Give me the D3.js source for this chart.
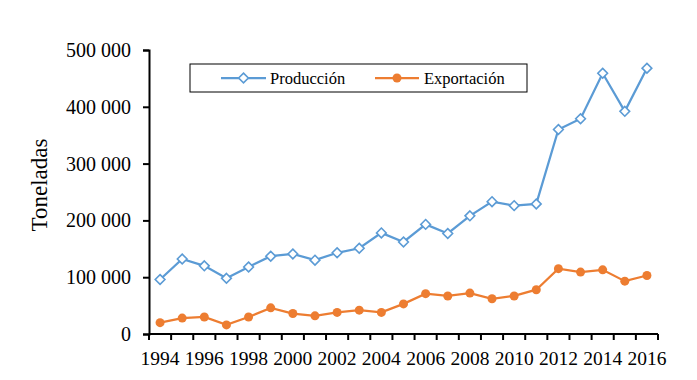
<!DOCTYPE html>
<html>
<head>
<meta charset="utf-8">
<script src="https://cdn.jsdelivr.net/npm/d3@7"></script>
<style>
  body { margin: 0; background: #fff; }
  text { font-family: "Liberation Serif", "Times New Roman", serif; fill: #000; }
</style>
</head>
<body>
<div id="chart"></div>
<script>
// years on the x axis
var years = [1994, 1995, 1996, 1997, 1998, 1999, 2000, 2001, 2002, 2003, 2004, 2005,
             2006, 2007, 2008, 2009, 2010, 2011, 2012, 2013, 2014, 2015, 2016];

// toneladas
var produccion = [96000, 132000, 120000, 98000, 118000, 137000, 141000, 130000, 143000, 151000,
                  178000, 162000, 193000, 177000, 208000, 233000, 226000, 229000, 360000,
                  379000, 459000, 392000, 468000];
var exportacion = [20000, 28000, 30000, 16000, 30000, 46000, 36000, 32000, 38000, 42000,
                   38000, 53000, 71000, 67000, 72000, 62000, 67000, 78000, 115000, 109000,
                   113000, 93000, 103000];

var yTicks = [0, 100000, 200000, 300000, 400000, 500000];
var xLabels = [1994, 1996, 1998, 2000, 2002, 2004, 2006, 2008, 2010, 2012, 2014, 2016];

var margin = { top: 50, left: 149, right: 39, bottom: 46 },
    width = 697 - margin.left - margin.right,
    height = 380 - margin.top - margin.bottom;

var svg = d3.select("#chart")
    .append("svg")
    .attr("width", 697)
    .attr("height", 380)
    .append("g")
    .attr("transform", "translate(" + margin.left + "," + margin.top + ")");

var x = d3.scaleBand()
    .domain(years)
    .range([0, width]);

var y = d3.scaleLinear()
    .domain([0, 500000])
    .range([height, 0]);

var fmt = d3.formatLocale({ decimal: ",", thousands: " ", grouping: [3], currency: ["", ""] }).format(",d");

var blue = "#5B9BD5", orange = "#ED7D31";

// y axis
var yAxis = svg.append("g")
    .call(d3.axisLeft(y).tickValues(yTicks).tickFormat(fmt).tickSize(6).tickPadding(12));
yAxis.select(".domain").attr("stroke", "#000").attr("stroke-width", 2);
yAxis.selectAll(".tick line").attr("stroke", "#000").attr("stroke-width", 2);
yAxis.selectAll("text").style("font-size", "20px").attr("fill", "#000");

// x axis - ticks on category boundaries, labels every second year
var xAxis = svg.append("g")
    .attr("transform", "translate(0," + height + ")");
xAxis.append("line")
    .attr("x1", 0).attr("x2", width)
    .attr("stroke", "#000").attr("stroke-width", 2);
xAxis.selectAll(".xtick")
    .data(years.concat([null]))
    .enter().append("line")
    .attr("x1", function (d, i) { return i * x.step(); })
    .attr("x2", function (d, i) { return i * x.step(); })
    .attr("y1", 0).attr("y2", 6)
    .attr("stroke", "#000").attr("stroke-width", 2);
xAxis.selectAll(".xlabel")
    .data(xLabels)
    .enter().append("text")
    .attr("x", function (d) { return x(d) + x.bandwidth() / 2; })
    .attr("y", 31)
    .attr("text-anchor", "middle")
    .style("font-size", "19.5px")
    .text(function (d) { return d; });

// axis title
svg.append("text")
    .attr("transform", "translate(-102," + (height / 2 - 7) + ") rotate(-90)")
    .attr("text-anchor", "middle")
    .style("font-size", "23px")
    .text("Toneladas");

var cx = function (d, i) { return x(years[i]) + x.bandwidth() / 2; };

var line = d3.line()
    .x(cx)
    .y(function (d) { return y(d); });

// Producción
svg.append("path")
    .datum(produccion)
    .attr("d", line)
    .attr("fill", "none")
    .attr("stroke", blue)
    .attr("stroke-width", 2.25);

var diamond = d3.symbol().type(d3.symbolDiamond2).size(60);

svg.selectAll(".prod")
    .data(produccion)
    .enter().append("path")
    .attr("d", diamond)
    .attr("transform", function (d, i) { return "translate(" + cx(d, i) + "," + y(d) + ")"; })
    .attr("fill", "#fff")
    .attr("stroke", blue)
    .attr("stroke-width", 1.6);

// Exportación
svg.append("path")
    .datum(exportacion)
    .attr("d", line)
    .attr("fill", "none")
    .attr("stroke", orange)
    .attr("stroke-width", 2.25);

svg.selectAll(".exp")
    .data(exportacion)
    .enter().append("circle")
    .attr("cx", cx)
    .attr("cy", function (d) { return y(d); })
    .attr("r", 4.5)
    .attr("fill", orange);

// legend
var legend = svg.append("g").attr("transform", "translate(41,14)");
legend.append("rect")
    .attr("width", 337).attr("height", 28)
    .attr("fill", "#fff").attr("stroke", "#000").attr("stroke-width", 1);

legend.append("line")
    .attr("x1", 31).attr("x2", 76).attr("y1", 14).attr("y2", 14)
    .attr("stroke", blue).attr("stroke-width", 2.25);
legend.append("path")
    .attr("d", diamond)
    .attr("transform", "translate(53.5,14)")
    .attr("fill", "#fff").attr("stroke", blue).attr("stroke-width", 1.6);
legend.append("text")
    .attr("x", 80).attr("y", 19.5)
    .style("font-size", "16.5px")
    .text("Producción");

legend.append("line")
    .attr("x1", 185).attr("x2", 229).attr("y1", 14).attr("y2", 14)
    .attr("stroke", orange).attr("stroke-width", 2.25);
legend.append("circle")
    .attr("cx", 207).attr("cy", 14).attr("r", 4.5)
    .attr("fill", orange);
legend.append("text")
    .attr("x", 234).attr("y", 19.5)
    .style("font-size", "16.5px")
    .text("Exportación");
</script>
</body>
</html>
